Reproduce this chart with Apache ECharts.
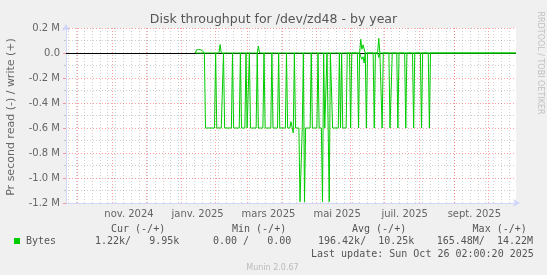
<!DOCTYPE html>
<html><head><meta charset="utf-8">
<script src="https://cdn.jsdelivr.net/npm/echarts@6/dist/echarts.min.js"></script>
<style>html,body{margin:0;padding:0;background:#f0f0f0}#c{width:547px;height:275px}</style>
</head><body><div id="c"></div>
<script>
// ---- data (bytes per second) ----
const readDates = ['2025-01-14','2025-01-15','2025-01-16','2025-01-22','2025-01-23','2025-01-31','2025-02-01','2025-02-02','2025-02-04','2025-02-05','2025-02-06','2025-02-07','2025-02-08','2025-02-09','2025-02-15','2025-02-16','2025-02-17','2025-02-22','2025-02-23','2025-02-24','2025-02-27','2025-02-28','2025-03-01','2025-03-02','2025-03-03','2025-03-04','2025-03-09','2025-03-10','2025-03-11','2025-03-15','2025-03-16','2025-03-17','2025-03-22','2025-03-23','2025-03-24','2025-03-28','2025-03-29','2025-03-30','2025-04-04','2025-04-05','2025-04-06','2025-04-08','2025-04-09','2025-04-10','2025-04-11','2025-04-12','2025-04-13','2025-04-16','2025-04-17','2025-04-18','2025-04-19','2025-04-20','2025-04-21','2025-04-22','2025-04-26','2025-04-27','2025-04-28','2025-05-02','2025-05-03','2025-05-04','2025-05-06','2025-05-07','2025-05-08','2025-05-09','2025-05-10','2025-05-11','2025-05-12','2025-05-13','2025-05-14','2025-05-16','2025-05-21','2025-05-22','2025-05-23','2025-05-24','2025-05-25','2025-05-28','2025-05-29','2025-05-31','2025-06-01','2025-06-02','2025-06-07','2025-06-08','2025-06-09','2025-06-10','2025-06-11','2025-06-12','2025-06-13','2025-06-14','2025-06-15','2025-06-16','2025-06-21','2025-06-22','2025-06-23','2025-06-25','2025-06-26','2025-06-27','2025-06-28','2025-06-29','2025-06-30','2025-07-05','2025-07-06','2025-07-07','2025-07-08','2025-07-12','2025-07-13','2025-07-14','2025-07-19','2025-07-20','2025-07-21','2025-07-26','2025-07-27','2025-07-28','2025-08-02','2025-08-03','2025-08-04','2025-08-09','2025-08-10','2025-08-11','2025-10-26'];
const readValues = [0,15000,0,0,600000,600000,0,600000,600000,615000,600000,600000,0,600000,600000,0,600000,600000,0,600000,600000,0,600000,600000,0,600000,600000,0,600000,600000,0,600000,600000,0,600000,600000,0,600000,600000,0,600000,600000,550000,550000,640000,0,600000,600000,1190000,1190000,600000,0,1190000,600000,600000,0,600000,600000,0,600000,600000,1190000,0,600000,600000,0,0,1190000,0,600000,600000,0,600000,0,600000,600000,0,0,600000,0,0,600000,0,30000,50000,30000,80000,0,600000,0,0,600000,0,0,35000,0,0,600000,0,0,600000,600000,0,0,600000,0,0,600000,0,0,600000,0,0,600000,0,0,600000,0,0];
const writeDates = ['2025-01-14','2025-01-15','2025-01-16','2025-01-18','2025-01-20','2025-01-22','2025-02-04','2025-02-05','2025-02-06','2025-02-13','2025-02-14','2025-02-15','2025-03-10','2025-03-11','2025-03-12','2025-03-16','2025-03-17','2025-03-18','2025-05-12','2025-05-13','2025-05-14','2025-06-09','2025-06-10','2025-06-11','2025-06-12','2025-06-13','2025-06-14','2025-06-25','2025-06-26','2025-06-27','2025-10-26'];
const writeValues = [0,25000,30000,28000,20000,0,0,68000,0,0,10000,0,0,55000,0,0,12000,0,0,15000,0,0,110000,30000,65000,50000,0,0,118000,0,0];

const axisStart = '2024-09-21', axisEnd = '2025-10-26';
const monthStarts = ['2024-10-01','2024-11-01','2024-12-01','2025-01-01','2025-02-01','2025-03-01','2025-04-01','2025-05-01','2025-06-01','2025-07-01','2025-08-01','2025-09-01','2025-10-01'];
const firstMonday = '2024-09-23';
const monthLabels = ['nov. 2024','janv. 2025','mars 2025','mai 2025','juil. 2025','sept. 2025'];
const monthLabelDates = ['2024-11-16','2025-01-16','2025-03-20','2025-05-20','2025-07-19','2025-09-19'];
const yMin = -1200000, yMax = 200000, yStep = 200000;

const title = 'Disk throughput for /dev/zd48 - by year';
const yName = 'Pr second read (-) / write (+)';
const legendName = 'Bytes';
const legendHeaders = ['Cur (-/+)','Min (-/+)','Avg (-/+)','Max (-/+)'];
const legendValues = ['1.22k/   9.95k','0.00 /   0.00','196.42k/  10.25k','165.48M/  14.22M'];
const lastUpdate = 'Last update: Sun Oct 26 02:00:20 2025';
const credit = 'RRDTOOL / TOBI OETIKER';
const version = 'Munin 2.0.67';

// ---- build ----
const ts = s => Date.parse(s + 'T00:00:00Z');
const readData = readDates.map((d, i) => [ts(d), -readValues[i]]);
const writeData = writeDates.map((d, i) => [ts(d), writeValues[i]]);
const labelTimes = monthLabelDates.map(ts);
const labelMap = {};
labelTimes.forEach((t, i) => labelMap[t] = monthLabels[i]);

const MGRID = 'rgba(255,0,0,0.376)', GRID = 'rgba(128,128,128,0.373)';
const gridLines = [];
for (let t = ts(firstMonday); t < ts(axisEnd); t += 7 * 86400000) {
  gridLines.push({ xAxis: t, lineStyle: { color: GRID, type: [1, 2], width: 1 } });
}
monthStarts.forEach(m => gridLines.push({ xAxis: ts(m), lineStyle: { color: MGRID, type: [1, 2], width: 1 } }));
gridLines.push({ yAxis: 0, lineStyle: { color: '#000', type: 'solid', width: 1 } });

const FONT = '#666666';
const mono = '10px "DejaVu Sans Mono"';
const hdrX = [111, 232, 352, 472.6];
const valX = [95, 213, 318, 436.7];
const graphics = [
  { type: 'text', left: 'center', top: 13, style: { text: title, font: '12.5px "DejaVu Sans"', fill: '#555' } },
  { type: 'text', x: 11, y: 117, rotation: Math.PI / 2, style: { text: yName, font: '11px "DejaVu Sans"', fill: FONT, align: 'center', verticalAlign: 'middle' } },
  { type: 'text', x: 540, y: 63, rotation: -Math.PI / 2, style: { text: credit, font: '8px "DejaVu Sans"', fill: '#c0c0c0', align: 'center', verticalAlign: 'middle' } },
  { type: 'rect', shape: { x: 14, y: 238, width: 6, height: 6 }, style: { fill: '#00cc00' } },
  { type: 'text', x: 26, y: 241.5, style: { text: legendName, font: mono, fill: '#555', align: 'left', verticalAlign: 'middle' } },
  { type: 'text', x: 311, y: 254.5, style: { text: lastUpdate, font: mono, fill: '#555', align: 'left', verticalAlign: 'middle' } },
  { type: 'text', x: 272.5, y: 267.5, style: { text: version, font: '8px "DejaVu Sans"', fill: '#bbbbbb', align: 'center', verticalAlign: 'middle' } }
];
legendHeaders.forEach((h, i) => graphics.push({ type: 'text', x: hdrX[i], y: 229.5, style: { text: h, font: mono, fill: '#555', align: 'left', verticalAlign: 'middle' } }));
legendValues.forEach((v, i) => graphics.push({ type: 'text', x: valX[i], y: 241.5, style: { text: v, font: mono, fill: '#555', align: 'left', verticalAlign: 'middle' } }));

const chart = echarts.init(document.getElementById('c'), null, { renderer: 'canvas' });
chart.setOption({
  animation: false,
  backgroundColor: '#f0f0f0',
  grid: { left: 66, right: 31, top: 28, bottom: 72, show: true, backgroundColor: '#ffffff', borderWidth: 0 },
  xAxis: {
    type: 'value', min: ts(axisStart), max: ts(axisEnd),
    axisLine: { onZero: false, lineStyle: { color: '#cfd6f8' }, symbol: ['none', 'arrow'], symbolSize: [6, 7], symbolOffset: [0, 4] },
    axisTick: { show: false },
    splitLine: { show: false },
    axisLabel: { customValues: labelTimes, formatter: v => labelMap[v] || '', color: FONT, fontFamily: 'DejaVu Sans', fontSize: 10, margin: 6, hideOverlap: false }
  },
  yAxis: {
    type: 'value', min: yMin, max: yMax, interval: yStep,
    axisLine: { show: true, onZero: false, lineStyle: { color: '#cfd6f8' }, symbol: ['none', 'arrow'], symbolSize: [6, 7], symbolOffset: [0, 4] },
    axisTick: { show: true, length: 3, lineStyle: { color: MGRID } },
    minorTick: { show: true, splitNumber: 2, length: 2, lineStyle: { color: GRID } },
    splitLine: { show: true, lineStyle: { color: MGRID, type: [1, 2] } },
    minorSplitLine: { show: true, lineStyle: { color: GRID, type: [1, 2] } },
    axisLabel: { formatter: v => v === 0 ? '0.0' : (v / 1e6).toFixed(1) + ' M', color: FONT, fontFamily: 'DejaVu Sans', fontSize: 10, margin: 6 }
  },
  graphic: graphics,
  series: [
    { type: 'line', data: [], z: 1, silent: true,
      markLine: { z: 1, silent: true, symbol: ['none', 'none'], label: { show: false }, emphasis: { disabled: true }, animation: false, data: gridLines } },
    { name: 'read', type: 'line', data: readData, showSymbol: false, z: 10, lineStyle: { color: '#00cc00', width: 1 }, itemStyle: { color: '#00cc00' } },
    { name: 'write', type: 'line', data: writeData, showSymbol: false, z: 10, lineStyle: { color: '#00cc00', width: 1 }, itemStyle: { color: '#00cc00' } }
  ]
});
</script></body></html>
